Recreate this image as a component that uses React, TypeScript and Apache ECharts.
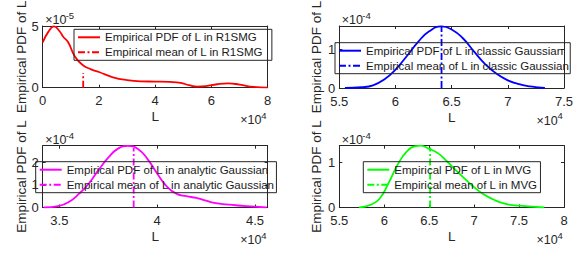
import React, { useEffect, useRef } from "react";
import * as echarts from "echarts";

// L values are in units of 1e4, PDF values in units of the exponent shown on each panel
const r1smgL = [0, 0.2, 0.4, 0.6, 0.73, 0.9, 1.15, 1.42, 1.7, 2.0, 2.5, 3.0, 3.5, 4.0, 4.5, 4.9, 5.2, 5.5, 5.8, 6.2, 6.6, 7.0, 7.5, 8.0];
const r1smgPdf = [3.7, 4.55, 5.0, 4.6, 4.15, 3.72, 2.52, 1.85, 1.52, 1.28, 0.85, 0.62, 0.52, 0.5, 0.47, 0.4, 0.2, 0.08, 0.12, 0.28, 0.35, 0.25, 0.06, 0.0];
const r1smgMean = [1.44, 1.2];

const classicL = [5.55, 5.7, 5.8, 5.9, 6.0, 6.1, 6.2, 6.3, 6.41, 6.5, 6.6, 6.7, 6.8, 6.9, 7.0, 7.1, 7.2, 7.33];
const classicPdf = [0.0, 0.02, 0.07, 0.22, 0.48, 0.83, 1.2, 1.48, 1.61, 1.53, 1.3, 0.95, 0.62, 0.37, 0.2, 0.1, 0.04, 0.0];
const classicMean = [6.41, 1.61];

const analyticL = [3.42, 3.5, 3.55, 3.6, 3.65, 3.7, 3.75, 3.8, 3.85, 3.9, 3.95, 4.0, 4.05, 4.1, 4.15, 4.2, 4.25, 4.3, 4.4, 4.5, 4.56];
const analyticPdf = [0.0, 0.07, 0.25, 0.6, 1.05, 1.65, 2.2, 2.6, 2.72, 2.6, 2.15, 1.5, 0.92, 0.6, 0.5, 0.42, 0.3, 0.19, 0.1, 0.04, 0.0];
const analyticMean = [3.88, 2.63];

const mvgL = [5.72, 5.85, 5.95, 6.05, 6.15, 6.25, 6.35, 6.4, 6.5, 6.6, 6.7, 6.8, 6.9, 7.0, 7.1, 7.2, 7.35, 7.5, 7.78];
const mvgPdf = [0, 0.06, 0.2, 0.55, 0.95, 1.24, 1.36, 1.37, 1.3, 1.2, 1.02, 0.82, 0.63, 0.45, 0.3, 0.19, 0.08, 0.04, 0];
const mvgMean = [6.51, 1.33];

const xTicks1 = [0, 2, 4, 6, 8];
const xTicks2 = [5.5, 6, 6.5, 7, 7.5];
const xTicks3 = [3.5, 4, 4.5];
const xTicks4 = [5.5, 6, 6.5, 7, 7.5, 8];
const yTicks1 = [0, 5];
const yTicks2 = [0, 1];
const yTicks3 = [0, 1, 2];
const yTicks4 = [0, 1];

const yLabel = "Empirical PDF of L";
const xLabel = "L";

const FONT = "'Liberation Sans', Arial, Helvetica, sans-serif";
const AX = "#262626";

export default function App() {
  const ref = useRef<HTMLDivElement>(null);
  useEffect(() => {
    if (!ref.current) return;
    const chart = echarts.init(ref.current, null, { renderer: "svg" });

    const panels = [
      { grid: { left: 42.7, top: 26, width: 225, height: 61.7 }, xMin: 0, xMax: 8, yMax: 5.03, xTicks: xTicks1, yTicks: yTicks1,
        L: r1smgL, P: r1smgPdf, M: r1smgMean, color: "#ff0000", name: "R1SMG",
        legend: { left: 74, top: 29.3, padding: [2, 9, 2, 3] }, expY: "-5", yLabX: 21.7 },
      { grid: { left: 339.3, top: 26, width: 224.7, height: 62 }, xMin: 5.5, xMax: 7.5, yMax: 1.62, xTicks: xTicks2, yTicks: yTicks2,
        L: classicL, P: classicPdf, M: classicMean, color: "#0000ff", name: "classic Gaussian",
        legend: { left: 335, top: 42.7, padding: [2, 1, 2, 3] }, expY: "-4", yLabX: 316 },
      { grid: { left: 42.7, top: 145.7, width: 225, height: 61.8 }, xMin: 3.415, xMax: 4.565, yMax: 2.73, xTicks: xTicks3, yTicks: yTicks3,
        L: analyticL, P: analyticPdf, M: analyticMean, color: "#ff00ff", name: "analytic Gaussian",
        legend: { left: 35.7, top: 161.7, padding: [2, 2, 2, 3] }, expY: "-4", yLabX: 21.7 },
      { grid: { left: 339.3, top: 145.7, width: 224.7, height: 61.8 }, xMin: 5.5, xMax: 8, yMax: 1.37, xTicks: xTicks4, yTicks: yTicks4,
        L: mvgL, P: mvgPdf, M: mvgMean, color: "#00ff00", name: "MVG",
        legend: { left: 363.3, top: 161.7, padding: [2, 3, 2, 3] }, expY: "-4", yLabX: 316.5 },
    ];

    const grids: any[] = [];
    const xAxes: any[] = [];
    const yAxes: any[] = [];
    const series: any[] = [];
    const legends: any[] = [];
    const graphics: any[] = [];

    const txt = (x: number, y: number, text: string, size: number, rotation = 0, align = "left") => ({
      type: "text", x, y, rotation,
      style: { text, font: `${size}px ${FONT}`, fill: AX, textAlign: align, textVerticalAlign: "middle", align, verticalAlign: "middle" },
    });

    panels.forEach((p, i) => {
      grids.push({ ...p.grid, containLabel: false, show: false });
      const line = { show: true, onZero: false, lineStyle: { color: AX, width: 1 } };
      const tick = (vals: number[]) => ({ show: true, inside: true, length: 3, customValues: vals, lineStyle: { color: AX, width: 1 } });
      const lbl = { fontFamily: FONT, color: AX };
      xAxes.push({
        type: "value", gridIndex: i, position: "bottom", min: p.xMin, max: p.xMax,
        axisLine: line, axisTick: tick(p.xTicks),
        axisLabel: { ...lbl, customValues: p.xTicks, fontSize: 13, lineHeight: 13, margin: 6.5 },
        splitLine: { show: false },
        name: xLabel, nameLocation: "middle", nameGap: 22,
        nameTextStyle: { ...lbl, fontSize: 13.5 },
      });
      xAxes.push({
        type: "value", gridIndex: i, position: "top", min: p.xMin, max: p.xMax,
        axisLine: line, axisTick: tick(p.xTicks), axisLabel: { show: false }, splitLine: { show: false },
      });
      yAxes.push({
        type: "value", gridIndex: i, position: "left", min: 0, max: p.yMax,
        axisLine: line, axisTick: tick(p.yTicks),
        axisLabel: { ...lbl, customValues: p.yTicks, fontSize: 13, lineHeight: 13, margin: 4 },
        splitLine: { show: false },
      });
      yAxes.push({
        type: "value", gridIndex: i, position: "right", min: 0, max: p.yMax,
        axisLine: line, axisTick: tick(p.yTicks), axisLabel: { show: false }, splitLine: { show: false },
      });
      const pdfName = "Empirical PDF of L in " + p.name;
      const meanName = "Empirical mean of L in " + p.name;
      series.push({
        type: "line", name: pdfName, xAxisIndex: 2 * i, yAxisIndex: 2 * i,
        data: p.L.map((x, k) => [x, p.P[k]]), showSymbol: false, symbol: "none",
        smooth: 0.5,
        lineStyle: { color: p.color, width: 1.8 }, itemStyle: { color: p.color },
      });
      series.push({
        type: "line", name: meanName, xAxisIndex: 2 * i, yAxisIndex: 2 * i,
        data: [[p.M[0], 0], [p.M[0], p.M[1]]], showSymbol: false, symbol: "none",
        lineStyle: { color: p.color, width: 1.8, type: [7, 2.5, 2, 2.5] }, itemStyle: { color: p.color },
      });
      legends.push({
        data: [pdfName, meanName], orient: "vertical", left: p.legend.left, top: p.legend.top,
        padding: p.legend.padding, itemGap: 3, itemWidth: 22, itemHeight: 10,
        borderColor: AX, borderWidth: 1, backgroundColor: "transparent",
        selectedMode: false,
        itemStyle: { opacity: 0 },
        textStyle: { fontFamily: FONT, fontSize: 11.5, color: "#1a1a1a" },
      });
      const g = p.grid;
      graphics.push(txt(p.yLabX, g.top + g.height / 2, yLabel, 13.5, Math.PI / 2, "center"));
      graphics.push(txt(g.left + 2.5, g.top - 6, "×10", 12.5));
      graphics.push(txt(g.left + 23, g.top - 10.5, p.expY, 9.5));
      const r = g.left + g.width;
      graphics.push(txt(r - 27.5, g.top + g.height + 32.5, "×10", 12.5));
      graphics.push(txt(r - 6.5, g.top + g.height + 27.5, "4", 9.5));
    });

    chart.setOption({
      animation: false,
      backgroundColor: "#ffffff",
      grid: grids,
      xAxis: xAxes,
      yAxis: yAxes,
      series,
      legend: legends,
      graphic: graphics,
    });
    return () => chart.dispose();
  }, []);
  return <div ref={ref} style={{ position: "fixed", left: 0, top: 0, width: 587, height: 253 }} />;
}
